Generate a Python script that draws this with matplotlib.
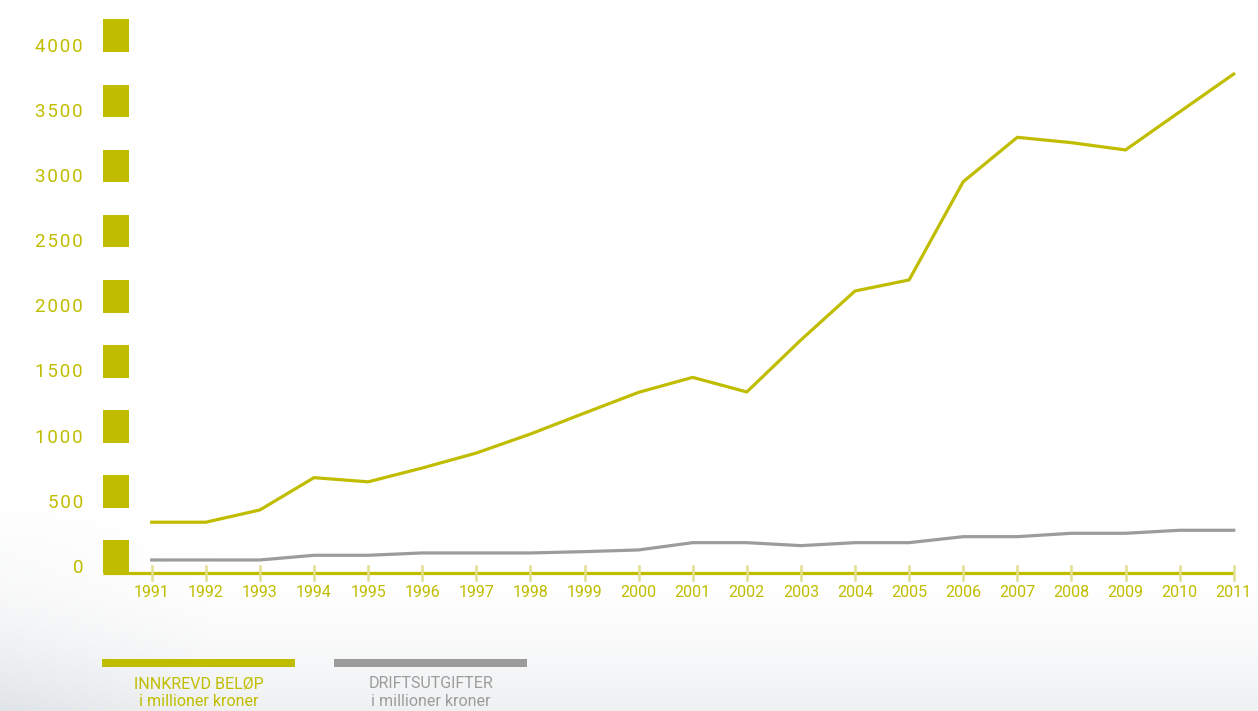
import numpy as np
import matplotlib.pyplot as plt

# Annual figures, million NOK
years = list(range(1991, 2012))
innkrevd = [390, 390, 484, 732, 700, 806, 921, 1067, 1228, 1387, 1502,
            1390, 1789, 2165, 2250, 3004, 3345, 3304, 3248, 3540, 3831]
driftsutgifter = [100, 100, 100, 136, 136, 154, 154, 154, 164, 177, 233,
                  233, 210, 233, 233, 279, 279, 305, 305, 328, 328]
y_ticks = [0, 500, 1000, 1500, 2000, 2500, 3000, 3500, 4000]
legend_titles = ["INNKREVD BELØP", "DRIFTSUTGIFTER"]
legend_sub = "i millioner kroner"

OLIVE = "#c0bd00"
TICK = "#e3df90"
GREY = "#9c9c9c"
FONT = ["Roboto", "DejaVu Sans"]

W, H = 1258, 711
fig = plt.figure(figsize=(W / 100, H / 100), dpi=100)

# soft background shading toward the bottom and left edge
bg = fig.add_axes([0, 0, 1, 1], zorder=-10)
yy, xx = np.mgrid[0:1:200j, 0:1:300j]
shade = np.clip((yy - 0.8) / 0.2, 0, 1) ** 1.6 * 0.06
shade += np.clip((0.17 - xx) / 0.17, 0, 1) * np.clip((yy - 0.7) / 0.3, 0, 1) * 0.05
rgb = np.dstack([1 - shade * 1.05, 1 - shade * 0.95, 1 - shade * 0.85])
bg.imshow(np.clip(rgb, 0, 1), extent=[0, 1, 1, 0], aspect="auto")
bg.set_xlim(0, 1)
bg.set_ylim(1, 0)
bg.axis("off")

# main plotting area, placed in pixel units
px0, px1 = 100, 1240
py_bot, py_top = 573, 10
ax = fig.add_axes([px0 / W, 1 - py_bot / H, (px1 - px0) / W, (py_bot - py_top) / H])
ax.patch.set_alpha(0)
px_per_year = 54.1
x_lo = 1991 - (151.7 - px0) / px_per_year
x_hi = 1991 + (px1 - 151.7) / px_per_year
ax.set_xlim(x_lo, x_hi)
px_per_unit = 521 / 4000
ax.set_ylim(0, (py_bot - py_top) / px_per_unit)
for s in ax.spines.values():
    s.set_visible(False)
ax.set_xticks([])
ax.set_yticks([])

# block markers next to the value labels
block_x = 1991 - (151.7 - 116) / px_per_year
ax.bar([block_x] * len(y_ticks), [250] * len(y_ticks), bottom=y_ticks,
       width=26 / px_per_year, color=OLIVE, linewidth=0, zorder=2)
for v in y_ticks:
    label = "\u200a".join(str(v))  # slightly tracked digits
    ax.text(block_x - 33 / px_per_year, v + 40, label,
            ha="right", va="center", color=OLIVE, fontsize=13.5,
            family=FONT, zorder=3)

# baseline and year ticks
base_left = block_x - 13 / px_per_year
ax.plot([base_left, years[-1]], [0, 0], color=OLIVE, lw=2.3,
        solid_capstyle="butt", zorder=3, clip_on=False)
for yr in years:
    ax.plot([yr, yr], [-55, 55], color=TICK, lw=1.8, zorder=4, clip_on=False)
    ax.text(yr, -150, str(yr), ha="center", va="center", color=OLIVE,
            fontsize=11.5, family=FONT, zorder=4, clip_on=False)

# series
ax.plot(years, driftsutgifter, color=GREY, lw=2.3, zorder=5)
ax.plot(years, innkrevd, color=OLIVE, lw=2.3, zorder=6)

# legend drawn below the chart
lg = fig.add_axes([0, 0, 1, 1], zorder=5)
lg.set_xlim(0, W)
lg.set_ylim(H, 0)
lg.axis("off")
lg.patch.set_alpha(0)
for (x0, x1), col, title in [((102, 295), OLIVE, legend_titles[0]),
                             ((334, 527), GREY, legend_titles[1])]:
    lg.fill_between([x0, x1], 659, 667, color=col, linewidth=0)
    cx = (x0 + x1) / 2
    lg.text(cx, 684, title, ha="center", va="center", color=col,
            fontsize=11.5, family=FONT)
    lg.text(cx, 702, legend_sub, ha="center", va="center", color=col,
            fontsize=11.5, family=FONT)

fig.savefig("out.png", dpi=100)
